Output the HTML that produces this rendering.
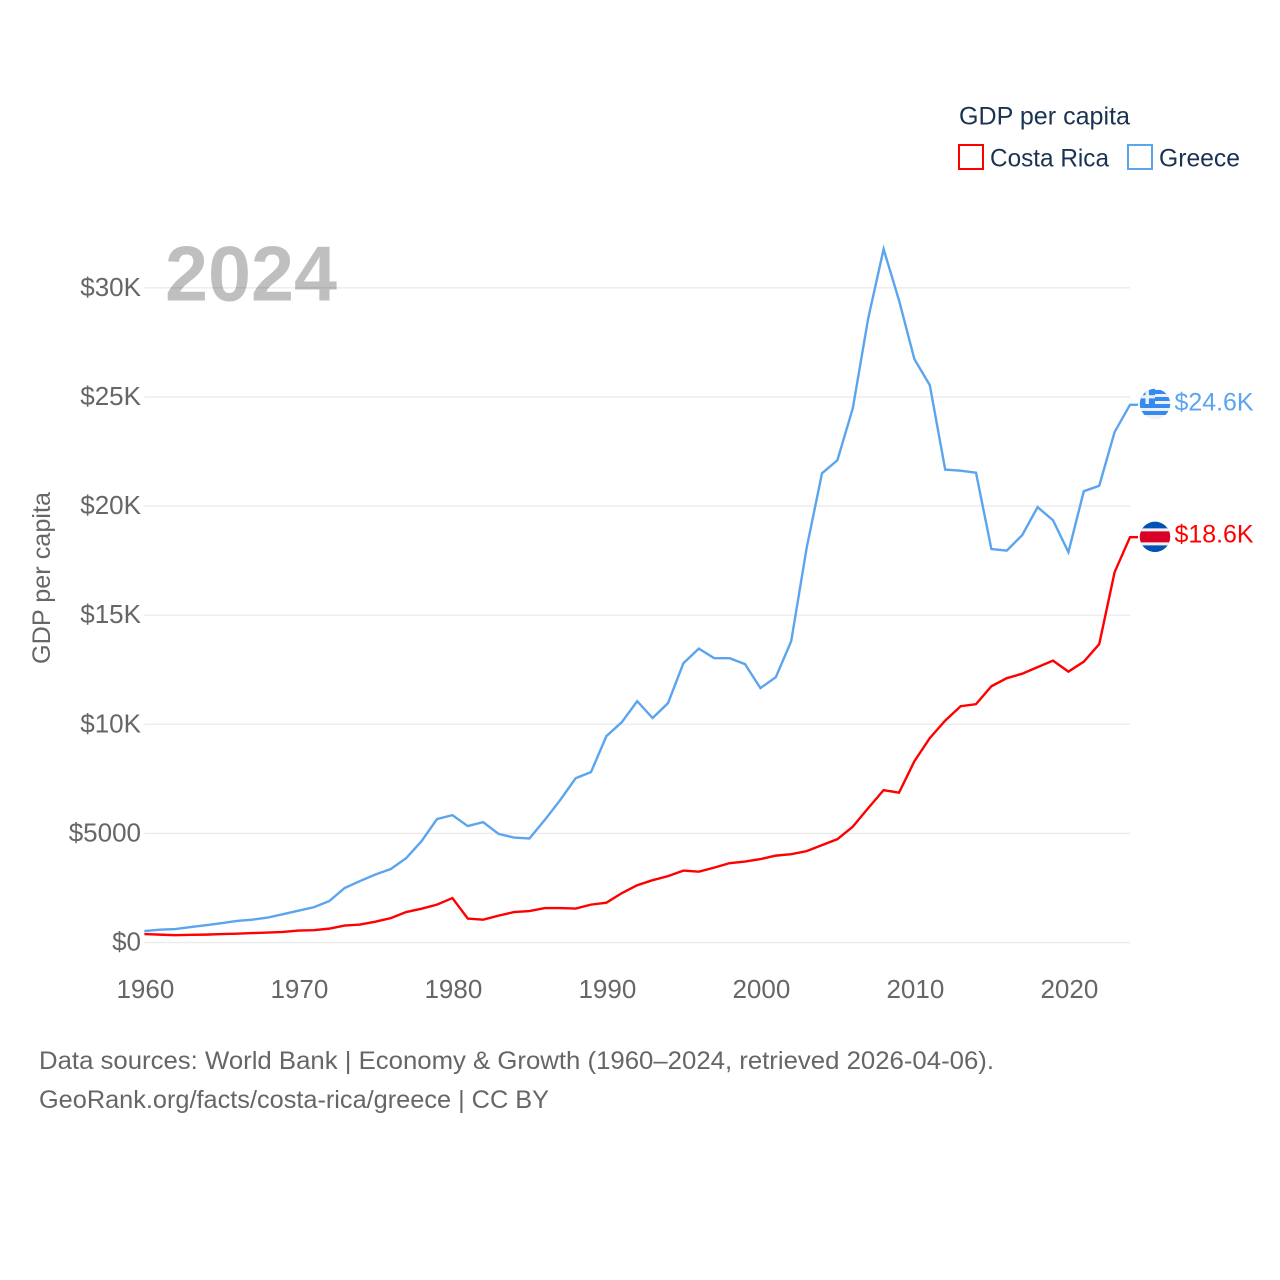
<!DOCTYPE html>
<html lang="en">
<head>
<meta charset="utf-8">
<title>GDP per capita: Costa Rica and Greece</title>
<style>
html,body{margin:0;padding:0;background:#fff;}
svg{display:block;font-family:"Liberation Sans",sans-serif;}
</style>
</head>
<body>
<svg id="chart" xmlns="http://www.w3.org/2000/svg" width="1280" height="1280" viewBox="0 0 1280 1280">
  <rect width="1280" height="1280" fill="#fff"/>
  <defs>
    <clipPath id="clip-gr"><circle cx="0" cy="0" r="15.2"/></clipPath>
    <clipPath id="clip-cr"><circle cx="0" cy="0" r="15.2"/></clipPath>
  </defs>
  <g id="grid"></g>
  <g id="yticks"></g>
  <g id="xticks"></g>
  <text x="165" y="300.5" font-size="78" font-weight="700" fill="#000" fill-opacity="0.25" textLength="172" lengthAdjust="spacingAndGlyphs">2024</text>
  <text transform="translate(50,578) rotate(-90)" text-anchor="middle" font-size="25" fill="#666" textLength="172" lengthAdjust="spacingAndGlyphs">GDP per capita</text>
  <g id="series"></g>
  <g id="ends"></g>

  <g>
    <text x="959" y="124.5" font-size="25" fill="#1a3353" textLength="171" lengthAdjust="spacingAndGlyphs">GDP per capita</text>
    <rect x="959" y="145" width="24" height="24" fill="none" stroke="#ff0000" stroke-width="2"/>
    <text x="990" y="166.5" font-size="25" fill="#1a3353" textLength="119" lengthAdjust="spacingAndGlyphs">Costa Rica</text>
    <rect x="1128" y="145" width="24" height="24" fill="none" stroke="#5ba4ee" stroke-width="2"/>
    <text x="1159" y="166.5" font-size="25" fill="#1a3353" textLength="81" lengthAdjust="spacingAndGlyphs">Greece</text>
  </g>

  <text x="39" y="1069" font-size="25" fill="#666" textLength="955" lengthAdjust="spacingAndGlyphs">Data sources: World Bank | Economy &amp; Growth (1960–2024, retrieved 2026-04-06).</text>
  <text x="39" y="1108" font-size="25" fill="#666" textLength="510" lengthAdjust="spacingAndGlyphs">GeoRank.org/facts/costa-rica/greece | CC BY</text>
</svg>
<script>
const firstYear = 1960;
const lastYear = 2024;
const xTickYears = [1960, 1970, 1980, 1990, 2000, 2010, 2020];
const yTickValues = [0, 5000, 10000, 15000, 20000, 25000, 30000];
const yTickLabels = ["$0", "$5000", "$10K", "$15K", "$20K", "$25K", "$30K"];
const greeceValues = [530,590,620,710,800,890,990,1050,1145,1300,1460,1620,1900,2500,2820,3120,3370,3870,4650,5660,5840,5340,5520,4980,4810,4770,5620,6530,7530,7810,9460,10100,11060,10290,10970,12800,13470,13030,13030,12760,11660,12160,13810,18070,21500,22100,24480,28600,31770,29430,26730,25540,21670,21620,21530,18030,17960,18670,19950,19350,17890,20680,20930,23390,24640];
const costaRicaValues = [390,365,340,355,365,390,410,435,460,490,550,570,640,780,825,960,1120,1400,1555,1740,2040,1100,1050,1235,1400,1445,1580,1580,1560,1740,1830,2265,2630,2860,3045,3300,3250,3435,3640,3710,3825,3985,4050,4190,4465,4740,5310,6160,6985,6870,8310,9370,10170,10830,10925,11745,12115,12320,12620,12920,12415,12870,13670,16970,18575];
const greeceEndLabel = "$24.6K";
const costaRicaEndLabel = "$18.6K";

const SVGNS = "http://www.w3.org/2000/svg";
const plotLeft = 144.4, plotRight = 1130, plotZero = 942.6, pxPerUnit = 654.8 / 30000;
function xScale(year) { return plotLeft + (year - firstYear) * (plotRight - plotLeft) / (lastYear - firstYear); }
function yScale(value) { return plotZero - value * pxPerUnit; }
function make(tag, attrs, parent) {
  const el = document.createElementNS(SVGNS, tag);
  for (const k in attrs) el.setAttribute(k, attrs[k]);
  parent.appendChild(el);
  return el;
}
const gridG = document.getElementById("grid");
const yG = document.getElementById("yticks");
const xG = document.getElementById("xticks");
const seriesG = document.getElementById("series");
const endsG = document.getElementById("ends");

yTickValues.forEach(function (v, i) {
  const line = make("line", {x1: plotLeft, x2: plotRight, y1: yScale(v), y2: yScale(v), stroke: "#ebebeb", "stroke-width": 1.4}, gridG);
  
  
  const t = make("text", {x: 141, y: yScale(v) + 8, "text-anchor": "end", "font-size": 26, fill: "#666"}, yG);
  
  
  t.textContent = yTickLabels[i];
});

xTickYears.forEach(function (y) {
  const t = make("text", {x: xScale(y) + 1, y: 998, "text-anchor": "middle", "font-size": 26, fill: "#666"}, xG);
  
  
  t.textContent = String(y);
});

function drawLine(values, color) {
  const pts = values.map(function (v, i) { return xScale(firstYear + i).toFixed(2) + "," + yScale(v).toFixed(2); });
  const lastV = values[values.length - 1];
  pts.push((xScale(lastYear) + 8).toFixed(2) + "," + yScale(lastV).toFixed(2));
  return make("polyline", {points: pts.join(" "), fill: "none", stroke: color, "stroke-width": 2.4, "stroke-linejoin": "miter"}, seriesG);
}
const greeceLine = drawLine(greeceValues, "#5ba4ee");


const costaLine = drawLine(costaRicaValues, "#ff0000");



/* Greece flag */
const grY = yScale(greeceValues[greeceValues.length - 1]);
const grFlag = make("g", {transform: "translate(1155," + (grY - 0.8).toFixed(2) + ")", "clip-path": "url(#clip-gr)"}, endsG);


make("rect", {x: -16, y: -16, width: 32, height: 32, fill: "#f0f0f0"}, grFlag);
[-14, -7, 0, 7].forEach(function (off) {
  make("rect", {x: -16, y: off, width: 32, height: 4, fill: "#338af3"}, grFlag);
});
make("rect", {x: -16, y: -16, width: 16, height: 16, fill: "#338af3"}, grFlag);
make("rect", {x: -9.5, y: -16, width: 3.4, height: 16, fill: "#f0f0f0"}, grFlag);
make("rect", {x: -16, y: -8.8, width: 16, height: 3.2, fill: "#f0f0f0"}, grFlag);

/* Costa Rica flag */
const crY = yScale(costaRicaValues[costaRicaValues.length - 1]);
const crFlag = make("g", {transform: "translate(1155," + (crY - 0.3).toFixed(2) + ")", "clip-path": "url(#clip-cr)"}, endsG);


make("rect", {x: -16, y: -16, width: 32, height: 32, fill: "#0052b4"}, crFlag);
make("rect", {x: -16, y: -8.5, width: 32, height: 17, fill: "#f0f0f0"}, crFlag);
make("rect", {x: -16, y: -5.5, width: 32, height: 11, fill: "#d80027"}, crFlag);

const grLabel = make("text", {x: 1174.5, y: grY + 5.5, "font-size": 25, fill: "#5ba4ee", textLength: 79, lengthAdjust: "spacingAndGlyphs"}, endsG);


grLabel.textContent = greeceEndLabel;

const crLabel = make("text", {x: 1174.5, y: crY + 5.5, "font-size": 25, fill: "#ff0000", textLength: 79, lengthAdjust: "spacingAndGlyphs"}, endsG);


crLabel.textContent = costaRicaEndLabel;
</script>
</body>
</html>
